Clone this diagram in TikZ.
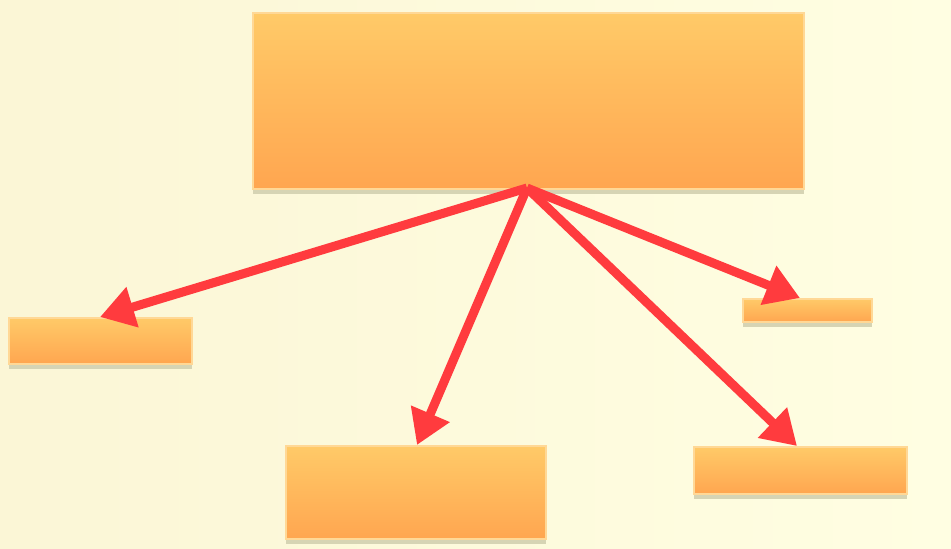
\documentclass[tikz,border=0pt]{standalone}
\usetikzlibrary{arrows.meta,calc}
\definecolor{bgL}{HTML}{FBF6D6}
\definecolor{bgR}{HTML}{FFFEE2}
\definecolor{boxTop}{HTML}{FFCA68}
\definecolor{boxBot}{HTML}{FFA650}
\definecolor{boxEdge}{HTML}{FFD896}
\definecolor{shad}{HTML}{D6D4B4}
\definecolor{arr}{HTML}{FF3B3E}
\tikzset{
  box/.style={anchor=north west, inner sep=0pt, top color=boxTop, bottom color=boxBot, draw=boxEdge, line width=1.5pt},
  shadowbox/.style={anchor=north west, inner sep=0pt, fill=shad, draw=none},
  redarrow/.style={draw=arr, line width=9pt, -{Triangle[length=34pt,width=40pt]}}
}
\begin{document}
\begin{tikzpicture}[x=1pt,y=-1pt]
\shade[left color=bgL, right color=bgR] (0,0) rectangle (951,549);
\useasboundingbox (0,0) rectangle (951,549);
% shadows
\node[shadowbox, minimum width=551pt, minimum height=176pt] at (253,18) {};
\node[shadowbox, minimum width=183pt, minimum height=46pt] at (9,323) {};
\node[shadowbox, minimum width=260pt, minimum height=93pt] at (286,451) {};
\node[shadowbox, minimum width=129pt, minimum height=23pt] at (743,304) {};
\node[shadowbox, minimum width=213pt, minimum height=47pt] at (694,452) {};
% boxes
\node[box, minimum width=551pt, minimum height=176pt] (top) at (252,12) {};
\node[box, minimum width=183pt, minimum height=46pt] (l) at (8,317) {};
\node[box, minimum width=260pt, minimum height=93pt] (m) at (285,445) {};
\node[box, minimum width=129pt, minimum height=23pt] (rs) at (742,298) {};
\node[box, minimum width=213pt, minimum height=47pt] (rb) at (693,446) {};
% arrows
\coordinate (o) at (527,188);
\draw[redarrow] (o) -- ([xshift=92pt]l.north west);
\draw[redarrow] (o) -- ([xshift=132pt]m.north west);
\draw[redarrow] (o) -- ([xshift=58pt]rs.north west);
\draw[redarrow] (o) -- ([xshift=104pt]rb.north west);
\end{tikzpicture}
\end{document}
